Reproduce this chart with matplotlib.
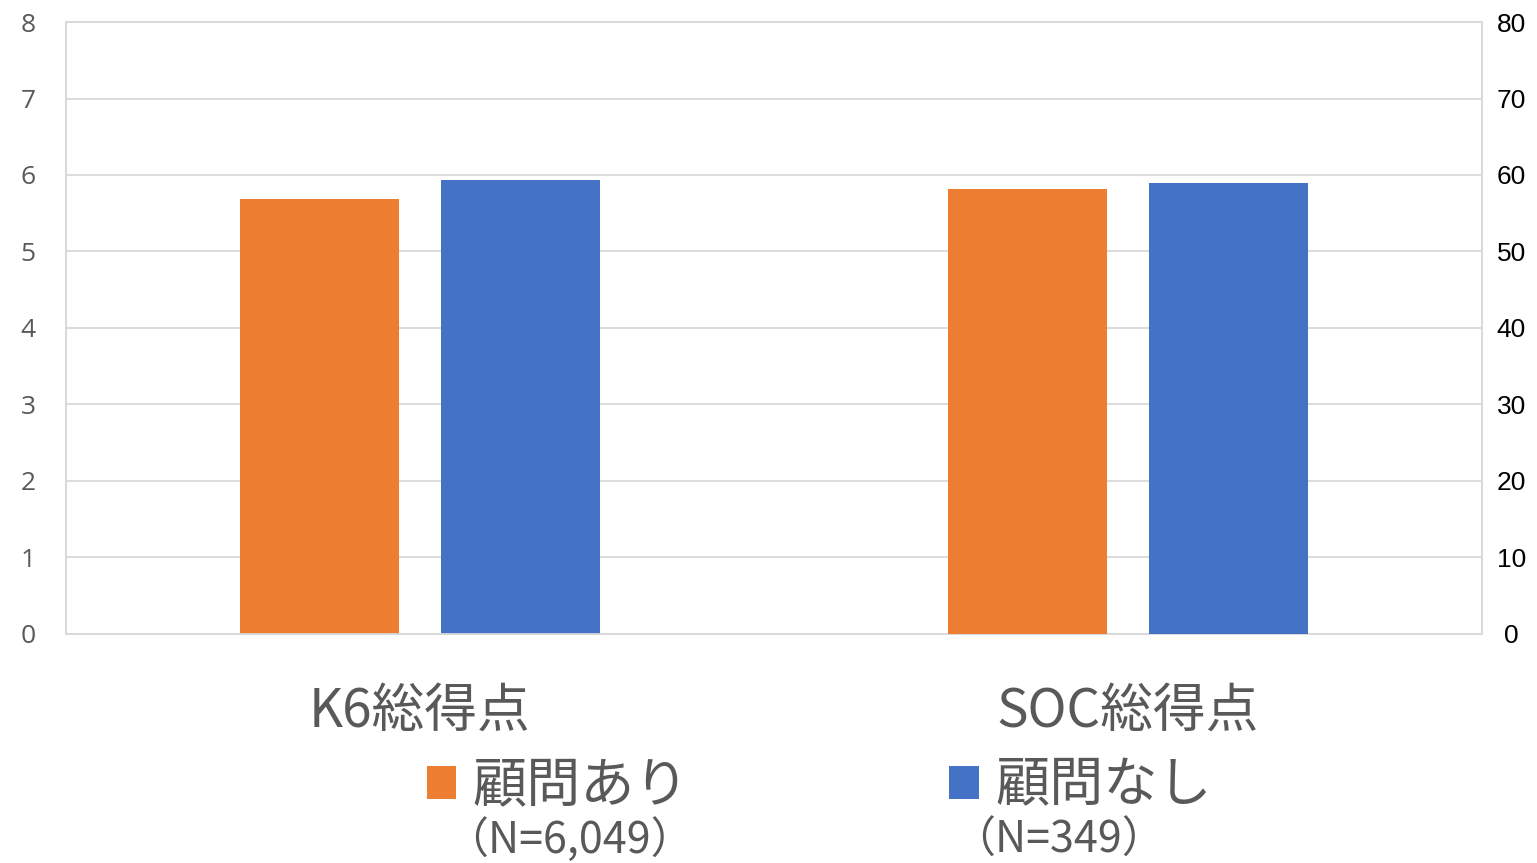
import matplotlib.pyplot as plt
import numpy as np

plt.rcParams['font.family'] = ['Noto Sans CJK JP', 'DejaVu Sans']

categories = ["K6総得点", "SOC総得点"]
groups = ["顧問あり", "顧問なし"]
groupN = ["（N=6,049）", "（N=349）"]
colors = ["#ED7D31", "#4472C4"]

# K6 on the left axis, SOC on the right axis
k6Values = [5.69, 5.93]
socValues = [58.2, 59.0]

fig = plt.figure(figsize=(15.37, 8.63), dpi=100)
ax = fig.add_axes([0.0429, 0.2654, 0.9213, 0.7091])
ax2 = ax.twinx()

x = np.arange(len(categories))
w = 0.225
off = 0.142

bars = []
for j in range(2):
	b = ax.bar(x[0] + (j * 2 - 1) * off, k6Values[j], w, color=colors[j], label=groups[j], zorder=3)
	bars.append(b)
	ax2.bar(x[1] + (j * 2 - 1) * off, socValues[j], w, color=colors[j], zorder=3)

ax.set_xlim(-0.5, 1.5)
ax.set_ylim(0, 8)
ax2.set_ylim(0, 80)
ax.set_yticks(range(0, 9))
ax2.set_yticks(range(0, 81, 10))

ax.grid(axis='y', color='#D9D9D9', linewidth=1.3, zorder=0)
ax.set_axisbelow(True)
for a in (ax, ax2):
	for s in a.spines.values():
		s.set_color('#D9D9D9')
		s.set_linewidth(1.3)

ax.set_xticks(x)
ax.set_xticklabels(categories, fontsize=38, color='#595959')
ax.tick_params(axis='x', length=0, pad=36)
ax.tick_params(axis='y', length=0, pad=22, labelsize=19, labelcolor='#595959')
ax2.tick_params(axis='y', length=0, pad=21, labelsize=19, labelcolor='black')
for t in ax.get_yticklabels():
	t.set_fontfamily('Open Sans')
for t in ax2.get_yticklabels():
	t.set_fontfamily('Liberation Sans')
	t.set_horizontalalignment('center')

leg = fig.legend(handles=bars, labels=groups, loc='center', bbox_to_anchor=(0.533, 0.089),
	ncol=2, frameon=False, fontsize=39, labelcolor='#595959',
	handlelength=0.55, handleheight=0.55, handletextpad=0.3, columnspacing=4.8)

fig.text(445 / 1537, 0.026, groupN[0], fontsize=31, color='#595959', ha='left', va='center')
fig.text(952 / 1537, 0.026, groupN[1], fontsize=31, color='#595959', ha='left', va='center')

fig.savefig("out.png", dpi=100)
